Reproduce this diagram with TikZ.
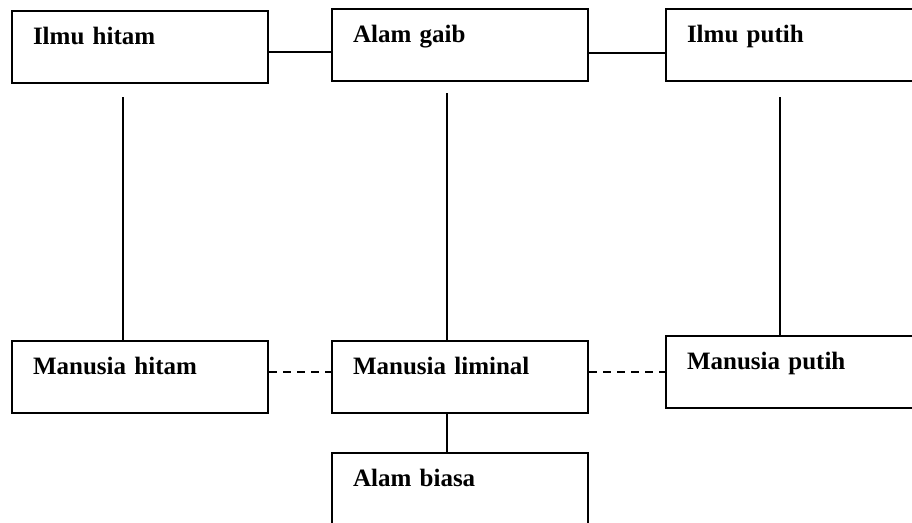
\documentclass[tikz,border=0pt]{standalone}
\usepackage{fontspec}
\setmainfont{Liberation Serif}
\usetikzlibrary{positioning, calc}
\tikzset{
  konsepbox/.style={
    draw=black, line width=2pt,
    text width=214pt, align=left,
    inner xsep=21pt, inner ysep=10pt, text height=23pt, text depth=29pt,
    font=\fontsize{25}{29}\selectfont\bfseries,
  },
  link/.style={
    line width=1.4pt, draw=black,
  },
  dashlink/.style={
    link, dash pattern=on 8pt off 6pt,
  },
}

\begin{document}
\begin{tikzpicture}[x=1pt, y=-1pt]

\useasboundingbox (0,0) rectangle (912,522);

% =========================================================================
% top row: the unseen world and the two kinds of knowledge
% =========================================================================

\node[konsepbox, anchor=north west] (ilmuhitam) at (11,10) {Ilmu hitam};
\node[konsepbox, right=62pt of ilmuhitam, yshift=2pt] (alamgaib) {Alam gaib};
\node[konsepbox, right=76pt of alamgaib] (ilmuputih) {Ilmu putih};

% =========================================================================
% bottom rows: people and the ordinary world
% =========================================================================

\node[konsepbox, below=256pt of ilmuhitam] (manhitam) {Manusia hitam};
\node[konsepbox, right=62pt of manhitam] (manliminal) {Manusia liminal};
\node[konsepbox, right=76pt of manliminal, yshift=5pt] (manputih) {Manusia putih};
\node[konsepbox, below=38pt of manliminal] (alambiasa) {Alam biasa};

% =========================================================================
% connectors
% =========================================================================

\coordinate (top-hitam)   at (123,97);
\coordinate (top-liminal) at (447,93);
\coordinate (top-putih)   at (780,97);

\draw[link] (top-hitam)   -- (top-hitam |- manhitam.north);
\draw[link] (top-liminal) -- (top-liminal |- manliminal.north);
\draw[link] (top-putih)   -- (top-putih |- manputih.north);
\draw[link] (top-liminal |- manliminal.south) -- (top-liminal |- alambiasa.north);

\coordinate (row-top) at (0,52);
\coordinate (row-mid) at (0,372);

\draw[link] (row-top -| ilmuhitam.east) -- (row-top -| alamgaib.west);
\draw[link] ([yshift=-1pt]row-top -| alamgaib.east) -- ([yshift=-1pt]row-top -| ilmuputih.west);

\draw[dashlink] (row-mid -| manhitam.east)   -- (row-mid -| manliminal.west);
\draw[dashlink] (row-mid -| manliminal.east) -- (row-mid -| manputih.west);

\end{tikzpicture}
\end{document}
